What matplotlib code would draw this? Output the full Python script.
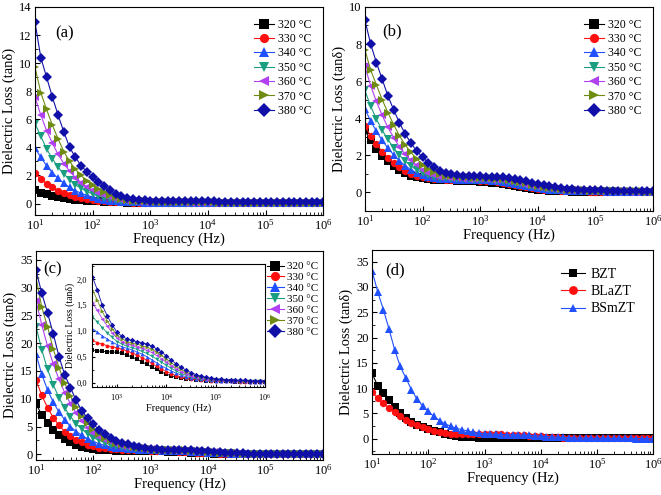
import matplotlib
matplotlib.use("Agg")
import matplotlib.pyplot as plt
from matplotlib.ticker import MultipleLocator, FuncFormatter

plt.rcParams['font.family'] = ['Liberation Serif', 'DejaVu Serif']
plt.rcParams['mathtext.fontset'] = 'custom'
plt.rcParams['mathtext.rm'] = 'Liberation Serif'

# frequency sweep, 10 points per decade, 10 Hz .. 1 MHz
mant = [1.0, 1.259, 1.585, 1.995, 2.512, 3.162, 3.981, 5.012, 6.31, 7.943]
freq = [m * 10.0 ** d for d in range(1, 6) for m in mant] + [1e6]

temps = ['320 °C', '330 °C', '340 °C', '350 °C', '360 °C', '370 °C', '380 °C']
colors = ['#000000', '#ff1010', '#2050ff', '#1a9e80', '#b040f0', '#6e8c14', '#1010a8']
markers = ['s', 'o', '^', 'v', '<', '>', 'D']

# (a) BZT
a320 = [0.95, 0.78, 0.65, 0.55, 0.47, 0.4, 0.34, 0.29, 0.25, 0.21, 0.18, 0.15, 0.13, 0.11, 0.09, 0.08, 0.07, 0.06, 0.05, 0.05,
        0.04, 0.04, 0.04, 0.04, 0.04, 0.04, 0.03, 0.03, 0.03, 0.03, 0.03, 0.03, 0.03, 0.03, 0.03, 0.03, 0.03, 0.03, 0.03, 0.03,
        0.03, 0.03, 0.03, 0.03, 0.03, 0.03, 0.03, 0.03, 0.03, 0.03, 0.03]
a330 = [2.15, 1.75, 1.42, 1.15, 0.93, 0.76, 0.62, 0.5, 0.41, 0.33, 0.27, 0.22, 0.18, 0.14, 0.12, 0.1, 0.08, 0.07, 0.06, 0.05,
        0.05, 0.05, 0.04, 0.04, 0.04, 0.04, 0.04, 0.04, 0.04, 0.04, 0.04, 0.04, 0.03, 0.03, 0.03, 0.03, 0.03, 0.03, 0.03, 0.03,
        0.03, 0.03, 0.03, 0.03, 0.03, 0.03, 0.03, 0.03, 0.03, 0.03, 0.03]
a340 = [3.95, 3.3, 2.7, 2.2, 1.8, 1.45, 1.15, 0.92, 0.73, 0.58, 0.46, 0.36, 0.28, 0.22, 0.17, 0.13, 0.11, 0.09, 0.08, 0.07,
        0.06, 0.06, 0.05, 0.05, 0.05, 0.05, 0.04, 0.04, 0.04, 0.04, 0.04, 0.04, 0.04, 0.04, 0.04, 0.04, 0.04, 0.04, 0.04, 0.04,
        0.04, 0.04, 0.04, 0.04, 0.04, 0.04, 0.04, 0.04, 0.04, 0.04, 0.04]
a350 = [5.7, 4.8, 3.9, 3.2, 2.6, 2.1, 1.7, 1.35, 1.08, 0.86, 0.68, 0.53, 0.41, 0.31, 0.24, 0.19, 0.15, 0.12, 0.1, 0.09,
        0.08, 0.07, 0.07, 0.06, 0.06, 0.06, 0.05, 0.05, 0.05, 0.05, 0.05, 0.04, 0.04, 0.04, 0.04, 0.04, 0.04, 0.04, 0.04, 0.04,
        0.04, 0.04, 0.04, 0.04, 0.04, 0.04, 0.04, 0.04, 0.04, 0.04, 0.04]
a360 = [7.6, 6.3, 5.2, 4.3, 3.5, 2.85, 2.3, 1.85, 1.5, 1.2, 0.95, 0.75, 0.58, 0.44, 0.33, 0.25, 0.2, 0.16, 0.14, 0.12,
        0.11, 0.1, 0.09, 0.09, 0.08, 0.08, 0.07, 0.07, 0.07, 0.06, 0.06, 0.06, 0.06, 0.05, 0.05, 0.05, 0.05, 0.05, 0.05, 0.04,
        0.04, 0.04, 0.04, 0.04, 0.04, 0.04, 0.04, 0.04, 0.04, 0.04, 0.04]
a370 = [9.7, 7.9, 6.7, 5.6, 4.6, 3.7, 3.0, 2.45, 2.0, 1.6, 1.3, 1.02, 0.8, 0.6, 0.45, 0.34, 0.26, 0.21, 0.18, 0.16,
        0.15, 0.14, 0.13, 0.12, 0.11, 0.1, 0.1, 0.09, 0.09, 0.08, 0.08, 0.08, 0.07, 0.07, 0.07, 0.07, 0.06, 0.06, 0.06, 0.06,
        0.06, 0.05, 0.05, 0.05, 0.05, 0.05, 0.05, 0.05, 0.05, 0.04, 0.04]
a380 = [12.9, 10.4, 9.0, 7.6, 6.3, 5.1, 4.0, 3.3, 2.7, 2.25, 1.87, 1.55, 1.25, 0.95, 0.7, 0.52, 0.4, 0.32, 0.27, 0.24,
        0.22, 0.21, 0.2, 0.19, 0.18, 0.17, 0.17, 0.16, 0.16, 0.15, 0.15, 0.15, 0.14, 0.14, 0.14, 0.14, 0.13, 0.13, 0.13, 0.13,
        0.13, 0.12, 0.12, 0.12, 0.12, 0.12, 0.12, 0.12, 0.11, 0.11, 0.11]

# (b) BLaZT
b320 = [3.35, 2.8, 2.35, 1.98, 1.67, 1.4, 1.19, 1.02, 0.9, 0.81, 0.75, 0.71, 0.68, 0.66, 0.65, 0.64, 0.63, 0.62, 0.61, 0.6,
        0.58, 0.56, 0.53, 0.49, 0.45, 0.4, 0.34, 0.28, 0.23, 0.18, 0.14, 0.11, 0.09, 0.07, 0.06, 0.05, 0.04, 0.04, 0.03, 0.03,
        0.03, 0.03, 0.02, 0.02, 0.02, 0.02, 0.02, 0.02, 0.02, 0.02, 0.02]
b330 = [3.6, 3.05, 2.6, 2.2, 1.87, 1.58, 1.35, 1.16, 1.01, 0.9, 0.82, 0.76, 0.72, 0.7, 0.68, 0.67, 0.66, 0.66, 0.65, 0.64,
        0.63, 0.61, 0.59, 0.56, 0.52, 0.47, 0.41, 0.35, 0.29, 0.24, 0.19, 0.15, 0.12, 0.1, 0.08, 0.07, 0.06, 0.05, 0.05, 0.04,
        0.04, 0.04, 0.03, 0.03, 0.03, 0.03, 0.03, 0.02, 0.02, 0.02, 0.02]
b340 = [4.5, 3.85, 3.3, 2.8, 2.38, 2.02, 1.7, 1.44, 1.22, 1.05, 0.92, 0.83, 0.77, 0.73, 0.71, 0.7, 0.69, 0.68, 0.68, 0.67,
        0.66, 0.64, 0.62, 0.6, 0.56, 0.52, 0.46, 0.4, 0.34, 0.28, 0.23, 0.19, 0.15, 0.13, 0.11, 0.09, 0.08, 0.07, 0.06, 0.06,
        0.05, 0.05, 0.04, 0.04, 0.04, 0.03, 0.03, 0.03, 0.03, 0.03, 0.03]
b350 = [5.5, 4.65, 3.95, 3.35, 2.85, 2.4, 2.0, 1.68, 1.42, 1.2, 1.03, 0.91, 0.83, 0.78, 0.75, 0.73, 0.72, 0.71, 0.7, 0.69,
        0.68, 0.67, 0.65, 0.63, 0.6, 0.56, 0.51, 0.45, 0.38, 0.32, 0.27, 0.22, 0.18, 0.15, 0.13, 0.11, 0.1, 0.09, 0.08, 0.07,
        0.06, 0.06, 0.05, 0.05, 0.04, 0.04, 0.04, 0.04, 0.03, 0.03, 0.03]
b360 = [6.8, 5.75, 4.9, 4.15, 3.5, 2.95, 2.45, 2.05, 1.72, 1.45, 1.22, 1.05, 0.93, 0.85, 0.8, 0.77, 0.75, 0.74, 0.73, 0.72,
        0.71, 0.7, 0.69, 0.67, 0.64, 0.6, 0.55, 0.49, 0.42, 0.36, 0.3, 0.25, 0.21, 0.17, 0.15, 0.13, 0.11, 0.1, 0.09, 0.08,
        0.07, 0.06, 0.06, 0.05, 0.05, 0.05, 0.04, 0.04, 0.04, 0.04, 0.04]
b370 = [7.7, 6.6, 5.8, 5.0, 4.3, 3.65, 3.05, 2.55, 2.15, 1.8, 1.5, 1.28, 1.1, 0.98, 0.9, 0.86, 0.83, 0.81, 0.8, 0.79,
        0.78, 0.77, 0.76, 0.74, 0.71, 0.67, 0.62, 0.56, 0.49, 0.42, 0.36, 0.3, 0.25, 0.21, 0.18, 0.15, 0.13, 0.11, 0.1, 0.09,
        0.08, 0.07, 0.07, 0.06, 0.06, 0.05, 0.05, 0.05, 0.05, 0.04, 0.04]
b380 = [9.3, 8.0, 7.0, 6.1, 5.2, 4.45, 3.75, 3.15, 2.65, 2.23, 1.9, 1.6, 1.35, 1.15, 1.03, 0.97, 0.93, 0.9, 0.88, 0.87,
        0.86, 0.85, 0.85, 0.84, 0.82, 0.79, 0.74, 0.68, 0.6, 0.52, 0.45, 0.38, 0.32, 0.27, 0.23, 0.2, 0.17, 0.15, 0.13, 0.12,
        0.11, 0.1, 0.09, 0.08, 0.08, 0.07, 0.07, 0.07, 0.06, 0.06, 0.06]

# (c) BSmZT
c320 = [9.1, 7.1, 5.6, 4.4, 3.5, 2.8, 2.2, 1.75, 1.4, 1.15, 0.95, 0.82, 0.74, 0.69, 0.66, 0.64, 0.62, 0.61, 0.6, 0.6,
        0.59, 0.57, 0.54, 0.5, 0.46, 0.41, 0.36, 0.31, 0.26, 0.21, 0.17, 0.14, 0.11, 0.09, 0.08, 0.07, 0.06, 0.05, 0.04, 0.04,
        0.03, 0.03, 0.03, 0.03, 0.02, 0.02, 0.02, 0.02, 0.02, 0.02, 0.02]
c330 = [13.4, 10.6, 8.4, 6.6, 5.2, 4.1, 3.3, 2.65, 2.15, 1.75, 1.45, 1.22, 1.05, 0.95, 0.87, 0.82, 0.78, 0.75, 0.72, 0.7,
        0.68, 0.65, 0.62, 0.58, 0.54, 0.49, 0.44, 0.38, 0.32, 0.27, 0.22, 0.18, 0.14, 0.12, 0.1, 0.08, 0.07, 0.06, 0.05, 0.04,
        0.04, 0.03, 0.03, 0.03, 0.03, 0.02, 0.02, 0.02, 0.02, 0.02, 0.02]
c340 = [18.0, 14.4, 11.6, 9.4, 7.6, 6.2, 5.0, 4.1, 3.4, 2.8, 2.3, 1.9, 1.6, 1.35, 1.18, 1.05, 0.98, 0.91, 0.85, 0.79,
        0.74, 0.7, 0.67, 0.64, 0.6, 0.56, 0.51, 0.45, 0.39, 0.33, 0.28, 0.23, 0.19, 0.15, 0.12, 0.1, 0.08, 0.07, 0.06, 0.05,
        0.04, 0.04, 0.04, 0.03, 0.03, 0.03, 0.03, 0.02, 0.02, 0.02, 0.02]
c350 = [23.0, 18.8, 15.3, 12.5, 10.2, 8.3, 6.8, 5.5, 4.5, 3.7, 3.0, 2.5, 2.05, 1.7, 1.45, 1.28, 1.18, 1.07, 0.97, 0.88,
        0.8, 0.75, 0.71, 0.68, 0.65, 0.61, 0.57, 0.52, 0.46, 0.4, 0.34, 0.28, 0.23, 0.18, 0.15, 0.12, 0.1, 0.08, 0.07, 0.06,
        0.05, 0.05, 0.04, 0.04, 0.04, 0.03, 0.03, 0.03, 0.03, 0.03, 0.02]
c360 = [27.6, 23.3, 19.5, 16.3, 13.5, 11.1, 9.1, 7.4, 6.0, 4.8, 3.9, 3.2, 2.6, 2.15, 1.8, 1.55, 1.4, 1.24, 1.1, 0.97,
        0.87, 0.8, 0.76, 0.73, 0.7, 0.67, 0.63, 0.59, 0.53, 0.47, 0.4, 0.33, 0.27, 0.22, 0.18, 0.14, 0.12, 0.1, 0.08, 0.07,
        0.06, 0.05, 0.05, 0.04, 0.04, 0.04, 0.03, 0.03, 0.03, 0.03, 0.03]
c370 = [31.7, 26.5, 23.0, 19.0, 15.6, 12.8, 10.5, 8.5, 6.9, 5.6, 4.6, 3.7, 3.0, 2.5, 2.1, 1.8, 1.6, 1.38, 1.2, 1.05,
        0.92, 0.85, 0.8, 0.77, 0.75, 0.72, 0.69, 0.65, 0.6, 0.53, 0.46, 0.39, 0.32, 0.26, 0.21, 0.17, 0.14, 0.11, 0.09, 0.08,
        0.07, 0.06, 0.05, 0.05, 0.05, 0.04, 0.04, 0.04, 0.03, 0.03, 0.03]
c380 = [33.1, 29.0, 25.5, 21.7, 17.6, 14.3, 12.0, 9.7, 7.8, 6.5, 5.4, 4.4, 3.6, 2.95, 2.45, 2.05, 1.8, 1.5, 1.3, 1.12,
        0.98, 0.9, 0.85, 0.82, 0.8, 0.78, 0.75, 0.71, 0.66, 0.6, 0.52, 0.44, 0.37, 0.3, 0.25, 0.2, 0.16, 0.13, 0.11, 0.09,
        0.08, 0.07, 0.06, 0.06, 0.05, 0.05, 0.05, 0.04, 0.04, 0.04, 0.04]

series_a = [a320, a330, a340, a350, a360, a370, a380]
series_b = [b320, b330, b340, b350, b360, b370, b380]
series_c = [c320, c330, c340, c350, c360, c370, c380]

# (d) comparison at 380 °C
samples = ['BZT', 'BLaZT', 'BSmZT']
series_d = [a380, b380, c380]
colors_d = ['#000000', '#ff1010', '#2050ff']
markers_d = ['s', 'o', '^']

fig = plt.figure(figsize=(6.61, 4.95), dpi=100)


def style(ax, lab_size=10.5, tick_size=9):
    ax.set_xscale('log')
    ax.set_xlim(10, 1e6)
    ax.tick_params(which='both', direction='in', labelsize=tick_size, top=False, right=False)
    ax.tick_params(which='major', length=3.5, pad=2.5)
    ax.tick_params(which='minor', length=2)
    ax.set_xlabel('Frequency (Hz)', fontsize=lab_size, labelpad=0)
    ax.set_ylabel('Dielectric Loss (tanδ)', fontsize=lab_size, labelpad=2)


def draw(ax, data, cols, marks, labels, ms=5.3):
    for y, c, m, lab in zip(data, cols, marks, labels):
        ax.plot(freq, y, color=c, marker=m, ms=ms, lw=0.8, mew=0, label=lab)


# (a)
ax = fig.add_axes([0.053, 0.566, 0.436, 0.420])
draw(ax, series_a, colors, markers, temps)
style(ax)
ax.set_ylim(-0.8, 14)
ax.yaxis.set_major_locator(MultipleLocator(2))
ax.yaxis.set_minor_locator(MultipleLocator(1))
ax.text(0.07, 0.875, '(a)', transform=ax.transAxes, fontsize=12, va='center')
ax.legend(frameon=False, loc='upper right', fontsize=8.5, handlelength=1.7, handletextpad=0.3,
          labelspacing=0.2, markerscale=1.25, borderaxespad=0.6)

# (b)
ax = fig.add_axes([0.552, 0.574, 0.436, 0.412])
draw(ax, series_b, colors, markers, temps)
style(ax)
ax.set_ylim(-1, 10)
ax.yaxis.set_major_locator(MultipleLocator(2))
ax.yaxis.set_minor_locator(MultipleLocator(1))
ax.text(0.06, 0.88, '(b)', transform=ax.transAxes, fontsize=12, va='center')
ax.legend(frameon=False, loc='upper right', fontsize=8.5, handlelength=1.7, handletextpad=0.3,
          labelspacing=0.2, markerscale=1.25, borderaxespad=0.6)

# (c)
ax = fig.add_axes([0.0545, 0.071, 0.434, 0.422])
draw(ax, series_c, colors, markers, temps)
style(ax)
ax.set_ylim(-1, 36.6)
ax.yaxis.set_major_locator(MultipleLocator(5))
ax.yaxis.set_minor_locator(MultipleLocator(2.5))
ax.text(0.025, 0.91, '(c)', transform=ax.transAxes, fontsize=12, va='center')
ax.legend(frameon=False, loc='upper left', bbox_to_anchor=(0.79, 0.97), fontsize=8, handlelength=1.5,
          handletextpad=0.3, labelspacing=0.1, markerscale=1.25, borderaxespad=0.0)

# inset of (c)
ins = fig.add_axes([0.139, 0.218, 0.262, 0.249])
for y, c, m in zip(series_c, colors, markers):
    ins.plot(freq[15:], y[15:], color=c, marker=m, ms=2.8, lw=0.6, mew=0)
ins.set_xscale('log')
ins.set_xlim(10 ** 2.49, 1e6)
ins.set_ylim(-0.08, 2.3)
ins.yaxis.set_major_locator(MultipleLocator(0.5))
ins.yaxis.set_minor_locator(MultipleLocator(0.25))
ins.yaxis.set_major_formatter(FuncFormatter(lambda v, p: f'{v:.1f}'.replace('.', ',')))
ins.tick_params(which='both', direction='in', labelsize=6, top=False, right=False)
ins.tick_params(which='major', length=2.5)
ins.tick_params(which='minor', length=1.5)
ins.set_xlabel('Frequency (Hz)', fontsize=7.5, labelpad=0.5)
ins.set_ylabel('Dielectric Loss (tanδ)', fontsize=7, labelpad=1)

# (d)
ax = fig.add_axes([0.563, 0.083, 0.425, 0.412])
draw(ax, series_d, colors_d, markers_d, samples)
style(ax)
ax.set_ylim(-3, 37.3)
ax.yaxis.set_major_locator(MultipleLocator(5))
ax.yaxis.set_minor_locator(MultipleLocator(2.5))
ax.text(0.046, 0.9, '(d)', transform=ax.transAxes, fontsize=12, va='center')
ax.legend(frameon=False, loc='upper right', fontsize=10, handlelength=1.7, handletextpad=0.4,
          labelspacing=0.3, markerscale=1.2, borderaxespad=0.9)

fig.savefig('out.png', dpi=100)
